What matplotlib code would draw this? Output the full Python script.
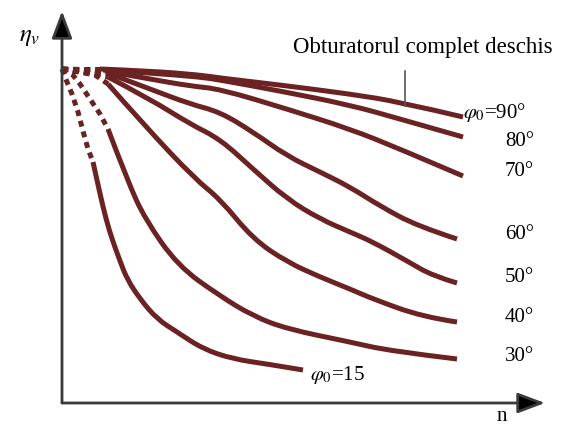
import matplotlib
matplotlib.use("Agg")
import matplotlib.pyplot as plt
from matplotlib.path import Path
from matplotlib.patches import PathPatch

# n (turatie) si eta_v, unitati arbitrare citite de pe grafic
# fiecare curba: partea punctata (extrapolata) + partea continua
n_dot = {
    "90": [0, 38],
    "80": [0, 41],
    "70": [0, 43],
    "60": [0, 20, 48],
    "50": [0, 22, 46],
    "40": [0, 18, 33, 46],
    "30": [0, 10, 18, 30, 38, 46],
    "15": [0, 5, 10, 16, 21, 26, 31],
}
eta_dot = {
    "90": [334, 334],
    "80": [334, 333],
    "70": [334, 332],
    "60": [334, 331, 329],
    "50": [334, 330, 326],
    "40": [334, 332, 328, 319],
    "30": [334, 329, 319, 301, 289, 274],
    "15": [334, 321, 309, 291, 272, 254, 241],
}
n_sol = {
    "90": [38, 88, 138, 158, 218, 288, 338, 401],
    "80": [41, 88, 138, 158, 218, 288, 338, 401],
    "70": [43, 88, 128, 158, 225, 288, 338, 401],
    "60": [48, 88, 128, 158, 191, 225, 258, 288, 318, 355, 395],
    "50": [46, 88, 128, 158, 191, 225, 258, 288, 311, 345, 371, 395],
    "40": [46, 83, 133, 158, 191, 225, 258, 288, 311, 361, 395],
    "30": [46, 66, 83, 116, 158, 191, 225, 288, 328, 395],
    "15": [31, 38, 44, 50, 58, 65, 78, 95, 115, 141, 171, 205, 241],
}
eta_sol = {
    "90": [334, 332, 328, 325, 318, 309, 301, 286],
    "80": [333, 330, 326, 323, 312, 298, 284, 266],
    "70": [332, 324, 317, 314, 294, 274, 254, 227],
    "60": [329, 314, 299, 291, 271, 247, 231, 216, 197, 177, 164],
    "50": [326, 304, 279, 264, 234, 204, 184, 171, 161, 142, 127, 120],
    "40": [319, 277, 224, 204, 164, 141, 126, 114, 104, 86, 81],
    "30": [274, 221, 184, 137, 107, 87, 74, 61, 52, 44],
    "15": [241, 209, 184, 164, 142, 124, 104, 84, 71, 54, 44, 39, 33],
}

labels = [r"$\varphi_0$=90°", "80°", "70°", "60°", "50°", "40°", "30°", r"$\varphi_0$=15"]
label_x = [401, 443, 443, 443, 443, 443, 443, 248]
label_y = [291, 262, 232, 169, 126, 86, 47, 29]

color = "#6a2322"


def smooth_path(xs, ys):
    # curba Bezier patratica prin mijloacele segmentelor (puncte = control)
    pts = list(zip(xs, ys))
    if len(pts) < 3:
        return Path(pts)
    verts = [pts[0]]
    codes = [Path.MOVETO]
    for i in range(1, len(pts) - 1):
        mid = ((pts[i][0] + pts[i + 1][0]) / 2, (pts[i][1] + pts[i + 1][1]) / 2)
        if i == len(pts) - 2:
            mid = pts[-1]
        verts += [pts[i], mid]
        codes += [Path.CURVE3, Path.CURVE3]
    return Path(verts, codes)


plt.rcParams["font.family"] = ["Liberation Serif", "DejaVu Serif"]
plt.rcParams["mathtext.fontset"] = "stix"

fig = plt.figure(figsize=(5.61, 4.27), dpi=100)
ax = fig.add_axes([62 / 561, 23 / 427, 483 / 561, 392 / 427])
ax.set_xlim(0, 483)
ax.set_ylim(0, 392)
ax.axis("off")

for k in n_sol:
    ax.plot(n_dot[k], eta_dot[k], color=color, lw=3.6, ls=(0, (1.2, 1.0)),
            solid_capstyle="butt", dash_capstyle="butt", clip_on=False)
    ax.add_patch(PathPatch(smooth_path(n_sol[k], eta_sol[k]), fc="none", ec=color,
                           lw=3.6, capstyle="butt", joinstyle="round", clip_on=False))

# axe cu sageti
for tip in [(0, 392), (483, 0)]:
    ax.annotate("", xy=tip, xytext=(0, 0),
                arrowprops=dict(arrowstyle="-|>,head_length=1.2,head_width=0.45",
                                color="#3a3a3a", lw=2, shrinkA=0, shrinkB=0,
                                mutation_scale=14, fc="black"))

ax.text(-32, 367, r"$\eta_v$", fontsize=18, ha="center", va="center")
ax.text(440, -13, "n", fontsize=15, ha="center", va="center")

ax.text(361, 357, "Obturatorul complet deschis", fontsize=16.5, ha="center", va="center")
ax.plot([343, 343], [332, 297], color="#555555", lw=1.2)

for t, x, y in zip(labels, label_x, label_y):
    ax.text(x, y, t, fontsize=15, ha="left", va="center", clip_on=False)

fig.savefig("out.png", dpi=100)
